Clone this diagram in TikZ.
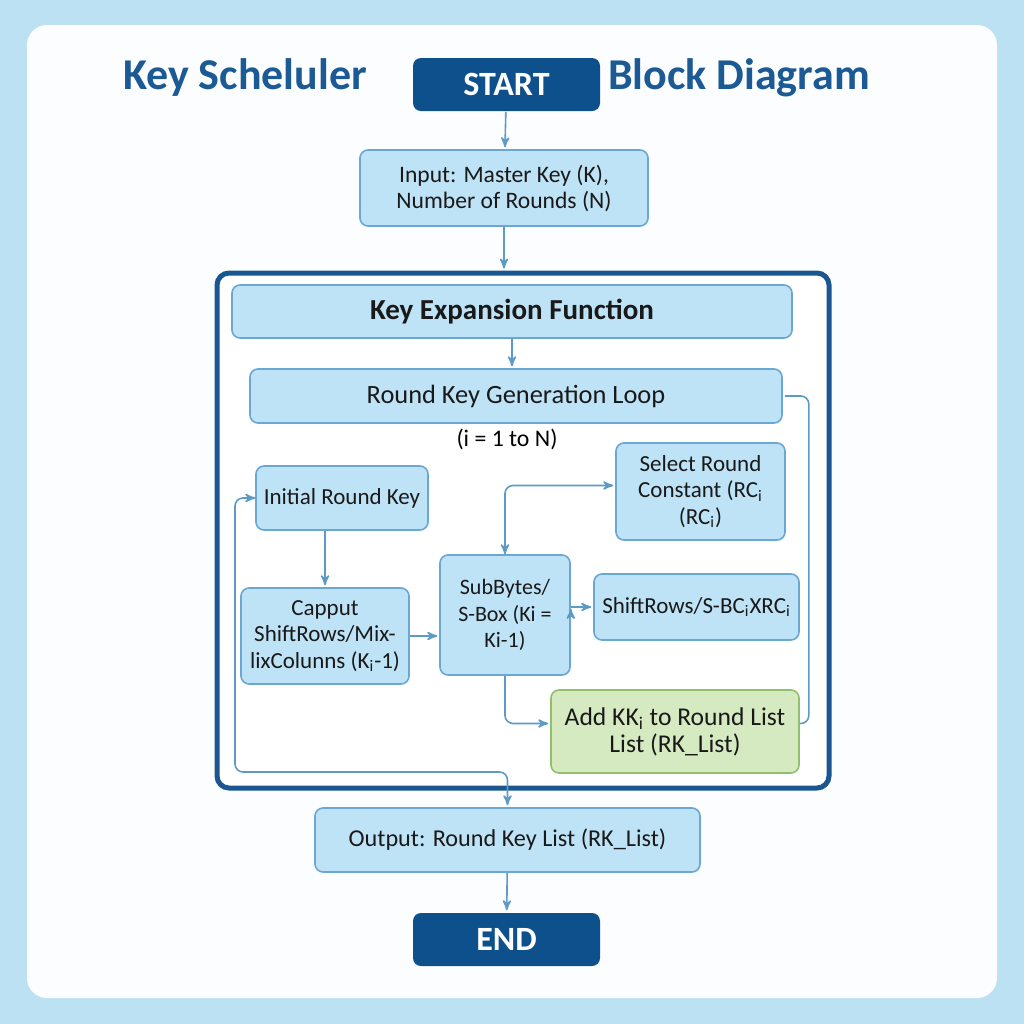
\documentclass[tikz,border=0pt]{standalone}
\usepackage{fontspec}
\setmainfont{Carlito}
\usetikzlibrary{arrows,positioning}

\definecolor{bgblue}{RGB}{187,225,243}
\definecolor{panel}{RGB}{251,253,254}
\definecolor{navy}{RGB}{14,80,139}
\definecolor{titleblue}{RGB}{27,90,148}
\definecolor{boxfill}{RGB}{191,227,246}
\definecolor{boxline}{RGB}{106,167,210}
\definecolor{wire}{RGB}{94,154,198}
\definecolor{greenfill}{RGB}{214,234,194}
\definecolor{greenline}{RGB}{146,191,108}
\definecolor{frameblue}{RGB}{26,86,144}

\begin{document}
\begin{tikzpicture}[x=0.5pt,y=-0.5pt,->,>=stealth',shorten >=1pt,
                    line width=0.8pt,draw=wire]
\tikzstyle{block}=[draw=boxline,fill=boxfill,rounded corners=4pt,line width=0.8pt,
  text=black!90,align=center,font=\fontsize{11.5}{13.2}\selectfont,inner sep=2pt]
\tikzstyle{term}=[fill=navy,rounded corners=4pt,text=white,
  font=\fontsize{17}{19}\selectfont\bfseries,minimum width=93.5pt,minimum height=26.5pt]
\tikzstyle{title}=[text=titleblue,font=\fontsize{22}{24}\selectfont\bfseries]
\tikzstyle{wire}=[draw=wire,line width=0.8pt]
\useasboundingbox (0,0) rectangle (1024,1024);
\fill[bgblue] (0,0) rectangle (1024,1024);
\fill[panel,rounded corners=10pt] (27,25) rectangle (997,998);

\node[title] (t1) at (245,78) {Key Scheluler};
\node[title] (t2) at (739,78) {Block Diagram};
\node[term] (1) at (506.5,84.5) {START};
\node[block,minimum width=144pt,minimum height=38pt,
  font=\fontsize{11.8}{13}\selectfont] (2) at (504,188)
  {Input: Master Key (K),\\Number of Rounds (N)};
\node[draw=frameblue,line width=2.5pt,rounded corners=6pt,fill=white,
  minimum width=306pt,minimum height=257.5pt] (0) at (523,530.5) {};
\node[block,minimum width=280pt,minimum height=26.5pt,
  font=\fontsize{14.5}{16}\selectfont\bfseries] (3) at (512,311.5) {Key Expansion Function};
\node[block,minimum width=266pt,minimum height=27pt,
  font=\fontsize{13.2}{15}\selectfont] (4) at (516,396) {Round Key Generation Loop};
\node[font=\fontsize{11.9}{13}\selectfont] (lp) at (507,439) {(i = 1 to N)};
\node[block,minimum width=86pt,minimum height=32pt] (5) at (342,498) {Initial Round Key};
\node[block,minimum width=84.5pt,minimum height=48.5pt] (6) at (700.5,491.5)
  {Select Round\\Constant (RC\textsubscript{i}\\(RC\textsubscript{i})};
\node[block,minimum width=84pt,minimum height=48pt] (7) at (325,636)
  {Capput\\ShiftRows/Mix-\\lixColunns (K\textsubscript{i}-1)};
\node[block,minimum width=65pt,minimum height=60pt,
  font=\fontsize{11}{13.2}\selectfont] (8) at (505,615)
  {SubBytes/\\S-Box (Ki =\\Ki-1)};
\node[block,minimum width=102.5pt,minimum height=33pt] (9) at (696.5,607)
  {ShiftRows/S-BC\textsubscript{i}XRC\textsubscript{i}};
\node[block,draw=greenline,fill=greenfill,minimum width=124pt,minimum height=41.5pt,
  font=\fontsize{12.8}{13.5}\selectfont] (10) at (675,731.5)
  {Add KK\textsubscript{i} to Round List\\List (RK\_List)};
\node[block,minimum width=192.5pt,minimum height=32pt,
  font=\fontsize{12.1}{13}\selectfont] (11) at (507.5,840) {Output: Round Key List (RK\_List)};
\node[term] (12) at (506.5,939.5) {END};
\coordinate (c1) at (235,772);

\path[wire] (1) edge (2)
      (2.south) edge (2.south |- 0.north)
      (3.south) edge (3.south |- 4.north)
      (5.south -| 7.north) edge (7.north)
      (7.east) edge (7.east -| 8.west)
      (8.east |- 9.west) edge (9.west)
      (11) edge (12);
\draw[wire,<->,rounded corners=4pt] (8.north) |- ([yshift=3pt]6.west);
\draw[wire,rounded corners=4pt] (8.south) |- ([yshift=4pt]10.west);
\draw[wire,-,rounded corners=4pt] ([yshift=4pt]10.east) -- ++(9,0) |- (4.east);
\draw[wire,<->,rounded corners=4pt] (5.west) -| (c1) -| (11.north);
\end{tikzpicture}
\end{document}
